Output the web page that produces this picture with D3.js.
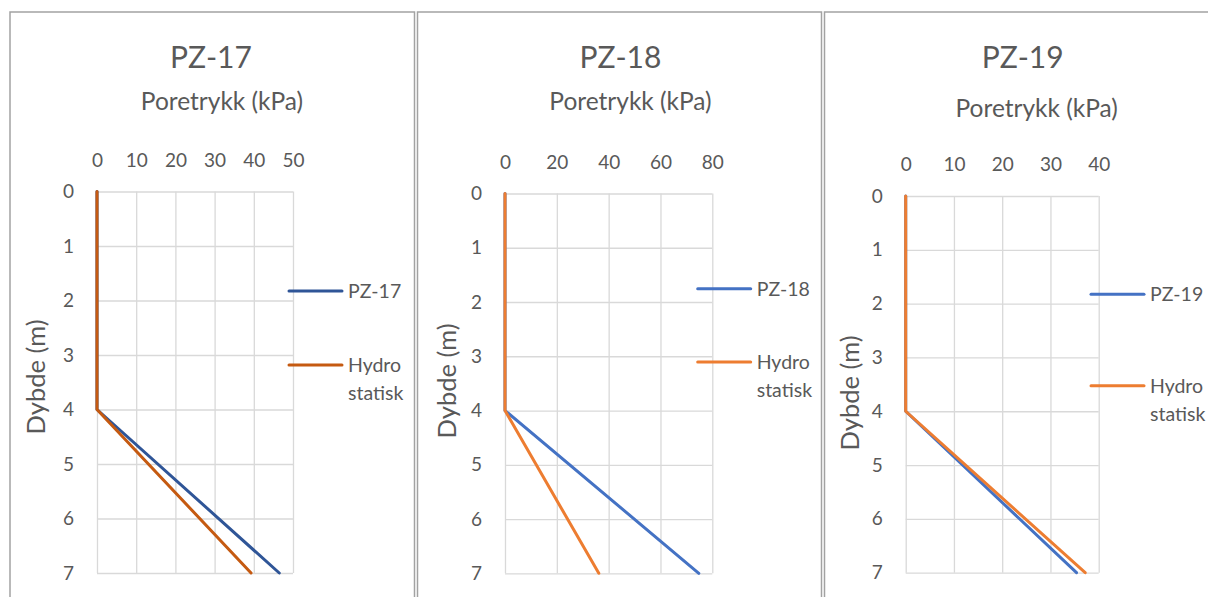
<!DOCTYPE html>
<html>
<head>
<meta charset="utf-8">
<script src="https://cdn.jsdelivr.net/npm/d3@7"></script>
<style>
  html, body { margin: 0; padding: 0; background: #fff; }
  svg { display: block; }
  text { font-family: Lato, "Open Sans", sans-serif; fill: #595959; }
</style>
</head>
<body>
<svg id="chart" width="1208" height="597"></svg>
<script>
// Pore pressure (kPa) against depth (m) for three piezometers
const depths = [0, 4, 7];
const depthTicks = [0, 1, 2, 3, 4, 5, 6, 7];

const wellNames = ["PZ-17", "PZ-18", "PZ-19"];
const hydroName = ["Hydro", "statisk"];

const pressurePZ17 = [0, 0, 46.5];
const hydroPZ17 = [0, 0, 39.3];
const pressurePZ18 = [0, 0, 74.8];
const hydroPZ18 = [0, 0, 36.2];
const pressurePZ19 = [0, 0, 35.4];
const hydroPZ19 = [0, 0, 37.2];

const ticksPZ17 = [0, 10, 20, 30, 40, 50];
const ticksPZ18 = [0, 20, 40, 60, 80];
const ticksPZ19 = [0, 10, 20, 30, 40];

const xTitle = "Poretrykk (kPa)";
const yTitle = "Dybde (m)";

// layout of each chart box
const panels = [
  { name: wellNames[0], well: pressurePZ17, hydro: hydroPZ17, ticks: ticksPZ17,
    colors: ["#2F5597", "#C55A11"],
    frame: [10, 414.5], plot: { l: 97, r: 293, t: 191.5, b: 573 },
    titleX: 211, titleY: 68, subX: 222, subY: 110, yTitleX: 36, yTitleY: 377,
    leg: { x: 289, y1: 291, y2: 365 } },
  { name: wellNames[1], well: pressurePZ18, hydro: hydroPZ18, ticks: ticksPZ18,
    colors: ["#4472C4", "#ED7D31"],
    frame: [417.5, 821.5], plot: { l: 505, r: 712.3, t: 193.5, b: 573.3 },
    titleX: 620.5, titleY: 68, subX: 630.5, subY: 110, yTitleX: 447.5, yTitleY: 381,
    leg: { x: 697.7, y1: 288.7, y2: 362 } },
  { name: wellNames[2], well: pressurePZ19, hydro: hydroPZ19, ticks: ticksPZ19,
    colors: ["#4472C4", "#ED7D31"],
    frame: [824.5, 1228.5], plot: { l: 905.7, r: 1098.7, t: 196, b: 572.7 },
    titleX: 1022.7, titleY: 68, subX: 1036.7, subY: 116.5, yTitleX: 850, yTitleY: 393,
    leg: { x: 1091, y1: 294.3, y2: 385.7 } }
];

const svg = d3.select("#chart");

panels.forEach(p => {
  const g = svg.append("g");

  // chart box
  g.append("rect")
    .attr("x", p.frame[0]).attr("y", 12)
    .attr("width", p.frame[1] - p.frame[0]).attr("height", 620)
    .attr("fill", "#fff").attr("stroke", "#a2a2a2").attr("stroke-width", 1.5);

  const x = d3.scaleLinear()
    .domain([0, p.ticks[p.ticks.length - 1]])
    .range([p.plot.l, p.plot.r]);
  const y = d3.scaleLinear()
    .domain([0, depthTicks[depthTicks.length - 1]])
    .range([p.plot.t, p.plot.b]);

  // gridlines
  g.append("g")
    .attr("transform", `translate(0,${p.plot.b})`)
    .call(d3.axisTop(x).tickValues(p.ticks).tickSize(p.plot.b - p.plot.t).tickFormat(""))
    .call(s => s.select(".domain").remove())
    .call(s => s.selectAll("line").attr("stroke", "#d9d9d9").attr("stroke-width", 1.3));
  g.append("g")
    .attr("transform", `translate(${p.plot.l},0)`)
    .call(d3.axisRight(y).tickValues(depthTicks).tickSize(p.plot.r - p.plot.l).tickFormat(""))
    .call(s => s.select(".domain").remove())
    .call(s => s.selectAll("line").attr("stroke", "#d9d9d9").attr("stroke-width", 1.3));

  // tick labels
  g.append("g")
    .attr("transform", `translate(0,${p.plot.t})`)
    .call(d3.axisTop(x).tickValues(p.ticks).tickSize(0).tickPadding(25).tickFormat(d3.format("d")))
    .call(s => s.select(".domain").remove())
    .call(s => s.selectAll("text").attr("font-size", 19).attr("fill", "#595959")
      .style("font-family", "Lato, sans-serif"));
  g.append("g")
    .attr("transform", `translate(${p.plot.l},0)`)
    .call(d3.axisLeft(y).tickValues(depthTicks).tickSize(0).tickPadding(23).tickFormat(d3.format("d")))
    .call(s => s.select(".domain").remove())
    .call(s => s.selectAll("text").attr("font-size", 19).attr("fill", "#595959")
      .style("font-family", "Lato, sans-serif"));

  // titles
  g.append("text").attr("x", p.titleX).attr("y", p.titleY)
    .attr("text-anchor", "middle").attr("font-size", 30).text(p.name);
  g.append("text").attr("x", p.subX).attr("y", p.subY)
    .attr("text-anchor", "middle").attr("font-size", 24.5).text(xTitle);
  g.append("text")
    .attr("transform", `translate(${p.yTitleX},${p.yTitleY}) rotate(-90)`)
    .attr("text-anchor", "middle").attr("dy", "0.35em")
    .attr("font-size", 25.5).text(yTitle);

  // series
  const line = d3.line().x(d => x(d[0])).y(d => y(d[1]));
  [p.well, p.hydro].forEach((vals, i) => {
    g.append("path")
      .datum(vals.map((v, k) => [v, depths[k]]))
      .attr("d", line)
      .attr("fill", "none")
      .attr("stroke", p.colors[i])
      .attr("stroke-width", 3)
      .attr("stroke-linejoin", "round")
      .attr("stroke-linecap", "round");
  });

  // legend
  const lg = g.append("g");
  [p.leg.y1, p.leg.y2].forEach((ly, i) => {
    lg.append("line")
      .attr("x1", p.leg.x).attr("x2", p.leg.x + 53)
      .attr("y1", ly).attr("y2", ly)
      .attr("stroke", p.colors[i]).attr("stroke-width", 3).attr("stroke-linecap", "round");
  });
  lg.append("text").attr("x", p.leg.x + 59).attr("y", p.leg.y1).attr("dy", "0.36em")
    .attr("font-size", 19.5).text(p.name);
  const t2 = lg.append("text").attr("x", p.leg.x + 59).attr("y", p.leg.y2).attr("dy", "0.36em")
    .attr("font-size", 19.5);
  t2.append("tspan").attr("x", p.leg.x + 59).text(hydroName[0]);
  t2.append("tspan").attr("x", p.leg.x + 59).attr("dy", 28).text(hydroName[1]);
});
</script>
</body>
</html>
